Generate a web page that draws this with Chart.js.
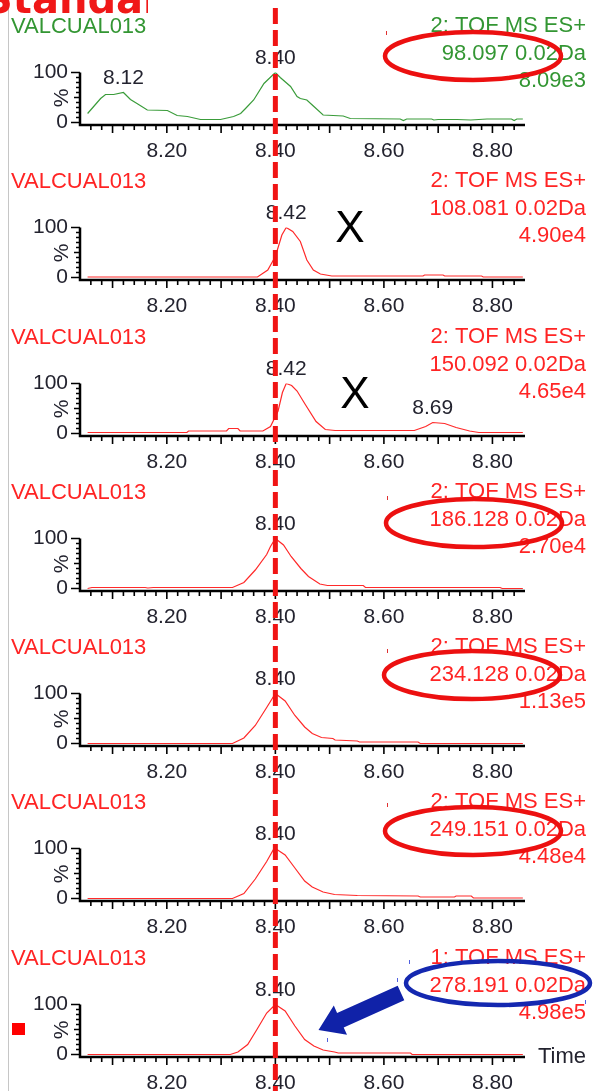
<!DOCTYPE html>
<html>
<head>
<meta charset="utf-8">
<title>VALCUAL013 extracted ion chromatograms</title>
<script src="https://cdn.jsdelivr.net/npm/chart.js@4.4.1/dist/chart.umd.min.js"></script>
<style>
  html, body { margin: 0; padding: 0; background: #fff; }
  #page { position: relative; width: 594px; height: 1091px; overflow: hidden; background: #fff; }
  #page canvas.trace { position: absolute; left: 0; }
  #marks { position: absolute; left: 0; top: 0; width: 594px; height: 1091px; pointer-events: none; }
</style>
</head>
<body>
<div id="page">
  <svg id="marks" xmlns="http://www.w3.org/2000/svg" width="594" height="1091" viewBox="0 0 594 1091">
    <defs>
      <clipPath id="noteClip"><rect x="0" y="0" width="148" height="30"/></clipPath>
    </defs>
    <line x1="8.5" y1="6" x2="8.5" y2="1091" stroke="#c6c6c6" stroke-width="1"/>
    <text x="-16" y="13" clip-path="url(#noteClip)" font-family="DejaVu Sans" font-weight="bold" font-size="40" fill="#f01818">Standard</text>
    <g id="notes"></g>
  </svg>
</div>
<script>
// Retention time (min) and relative intensity (%) for each extracted ion trace
const rt098  = [8.054, 8.078, 8.087, 8.102, 8.120, 8.133, 8.145, 8.164, 8.201, 8.219, 8.238, 8.262, 8.299, 8.323, 8.336, 8.345, 8.360, 8.379, 8.400, 8.409, 8.428, 8.440, 8.446, 8.458, 8.470, 8.488, 8.525, 8.538, 8.630, 8.636, 8.642, 8.688, 8.692, 8.700, 8.735, 8.760, 8.790, 8.800, 8.835, 8.840, 8.845, 8.856];
const pct098 = [18, 48, 56, 56, 60, 46, 38, 25, 24, 14, 12, 6, 6, 12, 18, 28, 45, 78, 100, 90, 72, 52, 48, 45, 33, 15, 13, 8, 7, 4, 7, 7, 5, 6, 6, 5, 7, 7, 7, 4, 7, 7];

const rt108  = [8.054, 8.367, 8.386, 8.400, 8.412, 8.420, 8.432, 8.446, 8.458, 8.470, 8.483, 8.504, 8.672, 8.675, 8.709, 8.712, 8.780, 8.783, 8.856];
const pct108 = [1, 1, 15, 42, 85, 100, 92, 72, 35, 15, 7, 3, 3, 5, 5, 3, 3, 1, 1];

const rt150  = [8.054, 8.237, 8.240, 8.310, 8.314, 8.331, 8.335, 8.377, 8.391, 8.405, 8.413, 8.420, 8.430, 8.440, 8.454, 8.475, 8.492, 8.510, 8.656, 8.677, 8.690, 8.712, 8.733, 8.758, 8.775, 8.856];
const pct150 = [2, 2, 5, 5, 10, 10, 5, 5, 14, 45, 82, 100, 96, 85, 60, 24, 8, 6, 6, 14, 22, 20, 12, 5, 2, 2];

const rt186  = [8.054, 8.062, 8.160, 8.165, 8.175, 8.321, 8.342, 8.363, 8.384, 8.391, 8.400, 8.415, 8.429, 8.447, 8.461, 8.482, 8.496, 8.562, 8.566, 8.814, 8.818, 8.856];
const pct186 = [0, 2, 2, 1, 2, 2, 12, 37, 68, 84, 100, 87, 64, 40, 24, 9, 6, 6, 2, 2, 0, 0];

const rt234  = [8.054, 8.321, 8.342, 8.363, 8.384, 8.400, 8.418, 8.436, 8.454, 8.468, 8.485, 8.506, 8.510, 8.551, 8.555, 8.663, 8.667, 8.856];
const pct234 = [0, 0, 11, 36, 72, 100, 85, 56, 33, 20, 12, 10, 7, 5, 3, 3, 0, 0];

const rt249  = [8.054, 8.321, 8.342, 8.363, 8.384, 8.396, 8.400, 8.418, 8.436, 8.454, 8.468, 8.488, 8.509, 8.551, 8.663, 8.667, 8.730, 8.733, 8.761, 8.765, 8.856];
const pct249 = [0, 0, 10, 39, 74, 97, 100, 87, 61, 35, 23, 13, 8, 6, 5, 3, 3, 5, 5, 1, 1];

const rt278  = [8.054, 8.317, 8.331, 8.349, 8.366, 8.384, 8.400, 8.418, 8.436, 8.454, 8.471, 8.488, 8.509, 8.516, 8.649, 8.652, 8.856];
const pct278 = [0, 0, 5, 20, 50, 83, 100, 87, 57, 30, 17, 9, 5, 3, 3, 0, 0];

// Trace headers
const sampleName   = 'VALCUAL013';
const functionName = ['2: TOF MS ES+', '2: TOF MS ES+', '2: TOF MS ES+', '2: TOF MS ES+', '2: TOF MS ES+', '2: TOF MS ES+', '1: TOF MS ES+'];
const massWindow   = ['98.097 0.02Da', '108.081 0.02Da', '150.092 0.02Da', '186.128 0.02Da', '234.128 0.02Da', '249.151 0.02Da', '278.191 0.02Da'];
const maxIntensity = ['8.09e3', '4.90e4', '4.65e4', '2.70e4', '1.13e5', '4.48e4', '4.98e5'];
const peakTimes    = [[8.12, 8.40], [8.42], [8.42, 8.69], [8.40], [8.40], [8.40], [8.40]];

// Axes
const timeTicks = [8.20, 8.40, 8.60, 8.80];
const pctTicks  = [0, 100];
const timeMin = 8.04, timeMax = 8.86;
const markerTime = 8.40;

const FONT = '"Liberation Sans", Arial, sans-serif';
const RED = '#ff2a2a', GREEN = '#3a9c3a';
Chart.defaults.font.family = FONT;

const traces = [
  { rt: rt098, pct: pct098, line: GREEN, text: '#339633' },
  { rt: rt108, pct: pct108, line: RED, text: '#ff2424' },
  { rt: rt150, pct: pct150, line: RED, text: '#ff2424' },
  { rt: rt186, pct: pct186, line: RED, text: '#ff2424' },
  { rt: rt234, pct: pct234, line: RED, text: '#ff2424' },
  { rt: rt249, pct: pct249, line: RED, text: '#ff2424' },
  { rt: rt278, pct: pct278, line: RED, text: '#ff2424' }
];
const panelTops = [0, 155, 311, 466, 621, 776, 932];

// Axis frame, ticks, headers and peak apex labels for one trace
const chromDecor = {
  id: 'chromDecor',
  afterDraw(chart, args, o) {
    const { ctx, chartArea: a, scales: { x, y } } = chart;
    ctx.save();
    ctx.strokeStyle = '#000';
    ctx.lineWidth = 2.5;
    ctx.beginPath();
    ctx.moveTo(a.left, y.getPixelForValue(100));
    ctx.lineTo(a.left, a.bottom);
    ctx.lineTo(a.right, a.bottom);
    ctx.stroke();

    ctx.lineWidth = 1.6;
    ctx.beginPath();
    const step = 0.02;
    const i0 = Math.ceil(x.min / step - 1e-6) + 1, i1 = Math.floor(x.max / step + 1e-6) - 1;
    for (let i = i0; i <= i1; i++) {
      const px = x.getPixelForValue(i * step);
      const len = i % 5 === 0 ? 8 : 5;
      ctx.moveTo(px, a.bottom);
      ctx.lineTo(px, a.bottom + len);
    }
    for (let v = 0; v <= 100; v += 10) {
      const py = y.getPixelForValue(v);
      const len = (v === 0 || v === 100) ? 9 : (v === 50 ? 6 : 4);
      ctx.moveTo(a.left, py);
      ctx.lineTo(a.left - len, py);
    }
    ctx.stroke();

    ctx.textBaseline = 'middle';
    ctx.font = `21px ${FONT}`;
    ctx.fillStyle = '#23232f';
    ctx.save();
    ctx.translate(a.left - 18, a.bottom - 27);
    ctx.rotate(-Math.PI / 2);
    ctx.textAlign = 'center';
    ctx.fillText('%', 0, 0);
    ctx.restore();

    if (o.xTitle) {
      ctx.textAlign = 'left';
      ctx.font = `22px ${FONT}`;
      ctx.fillText(o.xTitle, a.right + 13, a.bottom);
    }

    ctx.font = `21px ${FONT}`;
    ctx.textAlign = 'center';
    const pts = chart.data.datasets[0].data;
    o.peaks.forEach(t => {
      const p = pts.find(d => Math.abs(d.x - t) < 1e-9);
      ctx.fillText(t.toFixed(2), x.getPixelForValue(t), y.getPixelForValue(p.y) - 14);
    });

    ctx.fillStyle = o.textColor;
    ctx.font = `22px ${FONT}`;
    ctx.textAlign = 'left';
    ctx.fillText(o.sample, 11, a.bottom - 98);
    ctx.textAlign = 'right';
    const rows = [99.5, 71, 44];
    o.header.forEach((s, i) => ctx.fillText(s, 586, a.bottom - rows[i]));
    ctx.restore();
  }
};

const page = document.getElementById('page');
const marks = document.getElementById('marks');
const charts = traces.map((tr, k) => {
  const cv = document.createElement('canvas');
  cv.className = 'trace';
  cv.width = 594; cv.height = 175;
  cv.style.top = panelTops[k] + 'px';
  page.insertBefore(cv, marks);
  return new Chart(cv, {
    type: 'line',
    data: {
      datasets: [{
        data: tr.rt.map((t, i) => ({ x: t, y: tr.pct[i] })),
        borderColor: tr.line,
        borderWidth: 1.2,
        pointRadius: 0,
        tension: 0,
        fill: false
      }]
    },
    options: {
      responsive: false,
      animation: false,
      devicePixelRatio: 1,
      events: [],
      layout: { padding: { left: 0, right: 69, top: 72.5, bottom: 5 } },
      plugins: {
        legend: { display: false },
        tooltip: { enabled: false },
        chromDecor: {
          peaks: peakTimes[k],
          sample: sampleName,
          header: [functionName[k], massWindow[k], maxIntensity[k]],
          textColor: tr.text,
          xTitle: k === traces.length - 1 ? 'Time' : null
        }
      },
      scales: {
        x: {
          type: 'linear', min: timeMin, max: timeMax,
          afterBuildTicks: s => { s.ticks = timeTicks.map(v => ({ value: v })); },
          afterFit: s => { s.height = 45; },
          grid: { display: false }, border: { display: false },
          ticks: { padding: 6, color: '#23232f', font: { size: 21 }, maxRotation: 0, autoSkip: false, callback: v => Number(v).toFixed(2) }
        },
        y: {
          type: 'linear', min: -5, max: 100,
          afterBuildTicks: s => { s.ticks = pctTicks.map(v => ({ value: v })); },
          afterFit: s => { s.width = 80; },
          grid: { display: false }, border: { display: false },
          ticks: { padding: 4, color: '#23232f', font: { size: 21 } }
        }
      }
    },
    plugins: [chromDecor]
  });
});

// Review markings over the traces
const NS = 'http://www.w3.org/2000/svg';
const notes = document.getElementById('notes');
function add(tag, attrs, text) {
  const el = document.createElementNS(NS, tag);
  Object.entries(attrs).forEach(([k, v]) => el.setAttribute(k, v));
  if (text) el.textContent = text;
  notes.appendChild(el);
  return el;
}
const markerX = charts[0].scales.x.getPixelForValue(markerTime);
add('line', { x1: markerX, y1: 8, x2: markerX, y2: 1091, stroke: '#f01414', 'stroke-width': 5, 'stroke-dasharray': '16 6' });

[[473, 56], [474, 523], [472, 675], [473, 831]].forEach(([cx, cy]) =>
  add('ellipse', { cx, cy, rx: 88, ry: 24, fill: 'none', stroke: '#ec1010', 'stroke-width': 4.5 }));
[[386, 31], [387, 496], [387, 649], [387, 803]].forEach(([px, py]) =>
  add('rect', { x: px, y: py, width: 1, height: 4, fill: '#e03030' }));

add('ellipse', { cx: 498, cy: 983, rx: 92, ry: 22, fill: 'none', stroke: '#1428b0', 'stroke-width': 4.5 });
add('polygon', { points: '397.7,985.7 404.3,1000.3 343.7,1027.5 347,1034.8 318.5,1030 333.8,1005.6 337.1,1012.9', fill: '#1022a8' });
[[409, 960], [397, 978], [327, 1038], [585, 1000]].forEach(([px, py]) =>
  add('rect', { x: px, y: py, width: 1, height: 4, fill: '#5060e0' }));

[[350, 227], [355, 393]].forEach(([cx, cy]) =>
  add('text', { x: cx, y: cy + 15, 'text-anchor': 'middle', 'font-family': 'Liberation Sans', 'font-size': 44, fill: '#000' }, 'X'));

add('rect', { x: 12, y: 1023, width: 13, height: 12, fill: '#ff0000' });
</script>
</body>
</html>
